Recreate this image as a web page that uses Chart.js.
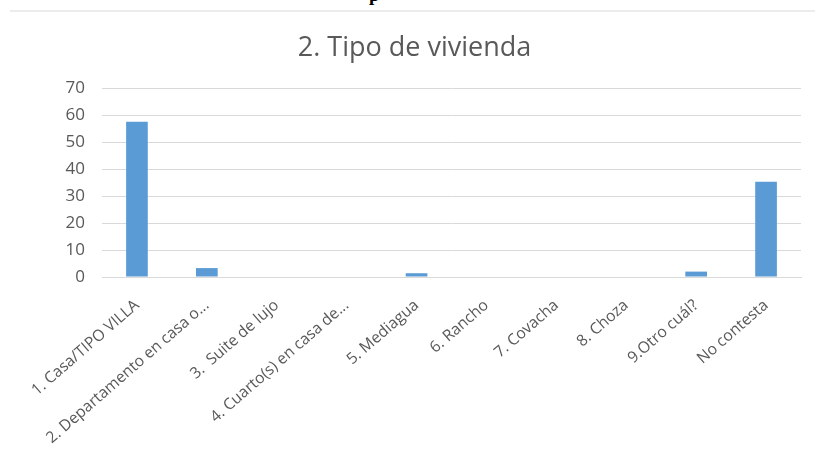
<!DOCTYPE html>
<html>
<head>
<meta charset="utf-8">
<script src="https://cdn.jsdelivr.net/npm/chart.js@4/dist/chart.umd.min.js"></script>
<style>
  html, body { margin: 0; padding: 0; background: #ffffff; }
  #wrap { position: relative; width: 815px; height: 459px; overflow: hidden; }
  #rule { position: absolute; top: 10px; left: 10px; right: 0; height: 2px; background: #ececec; }
  #frag { position: absolute; top: -16px; left: 369px; font: bold 19px "Liberation Serif", serif; color: #000; }
  #title { position: absolute; top: 28px; left: 0; width: 829px; text-align: center;
           font: 27px "Open Sans", sans-serif; color: #595959; line-height: 36px; }
  canvas { position: absolute; left: 0; top: 0; }
</style>
</head>
<body>
<div id="wrap">
  <div id="frag">p</div>
  <div id="rule"></div>
  <canvas id="c" width="815" height="459"></canvas>
  <div id="title"></div>
</div>
<script>
const chartTitle = "2. Tipo de vivienda";
const categories = [
  "1. Casa/TIPO VILLA",
  "2. Departamento en casa o...",
  "3.  Suite de lujo",
  "4. Cuarto(s) en casa de...",
  "5. Mediagua",
  "6. Rancho",
  "7. Covacha",
  "8. Choza",
  "9.Otro cuál?",
  "No contesta"
];
const values = [57.5, 3.3, 0, 0, 1.4, 0, 0, 0, 2, 35.3];
const yTicks = [0, 10, 20, 30, 40, 50, 60, 70];

document.getElementById("title").textContent = chartTitle;

new Chart(document.getElementById("c"), {
  type: "bar",
  data: {
    labels: categories,
    datasets: [{
      data: values,
      backgroundColor: "#5b9bd5",
      borderWidth: 0,
      barPercentage: 0.62,
      categoryPercentage: 0.5
    }]
  },
  options: {
    responsive: false,
    animation: false,
    layout: { padding: { top: 88, right: 14, bottom: 0, left: 0 } },
    plugins: {
      legend: { display: false },
      tooltip: { enabled: false },
      title: { display: false }
    },
    scales: {
      x: {
        grid: { display: false },
        border: { display: true, color: "#d9d9d9", width: 1 },
        ticks: {
          color: "#595959",
          font: { family: "'Open Sans', sans-serif", size: 15.7 },
          minRotation: 41,
          maxRotation: 41,
          autoSkip: false,
          padding: 11
        },
        afterFit: (s) => { s.height = 182; }
      },
      y: {
        min: 0,
        max: 70,
        afterBuildTicks: (s) => { s.ticks = yTicks.map(v => ({ value: v })); },
        grid: { color: "#d9d9d9", lineWidth: 1, drawTicks: false },
        border: { display: false },
        ticks: {
          color: "#595959",
          font: { family: "'Open Sans', sans-serif", size: 17 },
          padding: 17
        },
        afterFit: (s) => { s.width = 102; }
      }
    }
  }
});
</script>
</body>
</html>
